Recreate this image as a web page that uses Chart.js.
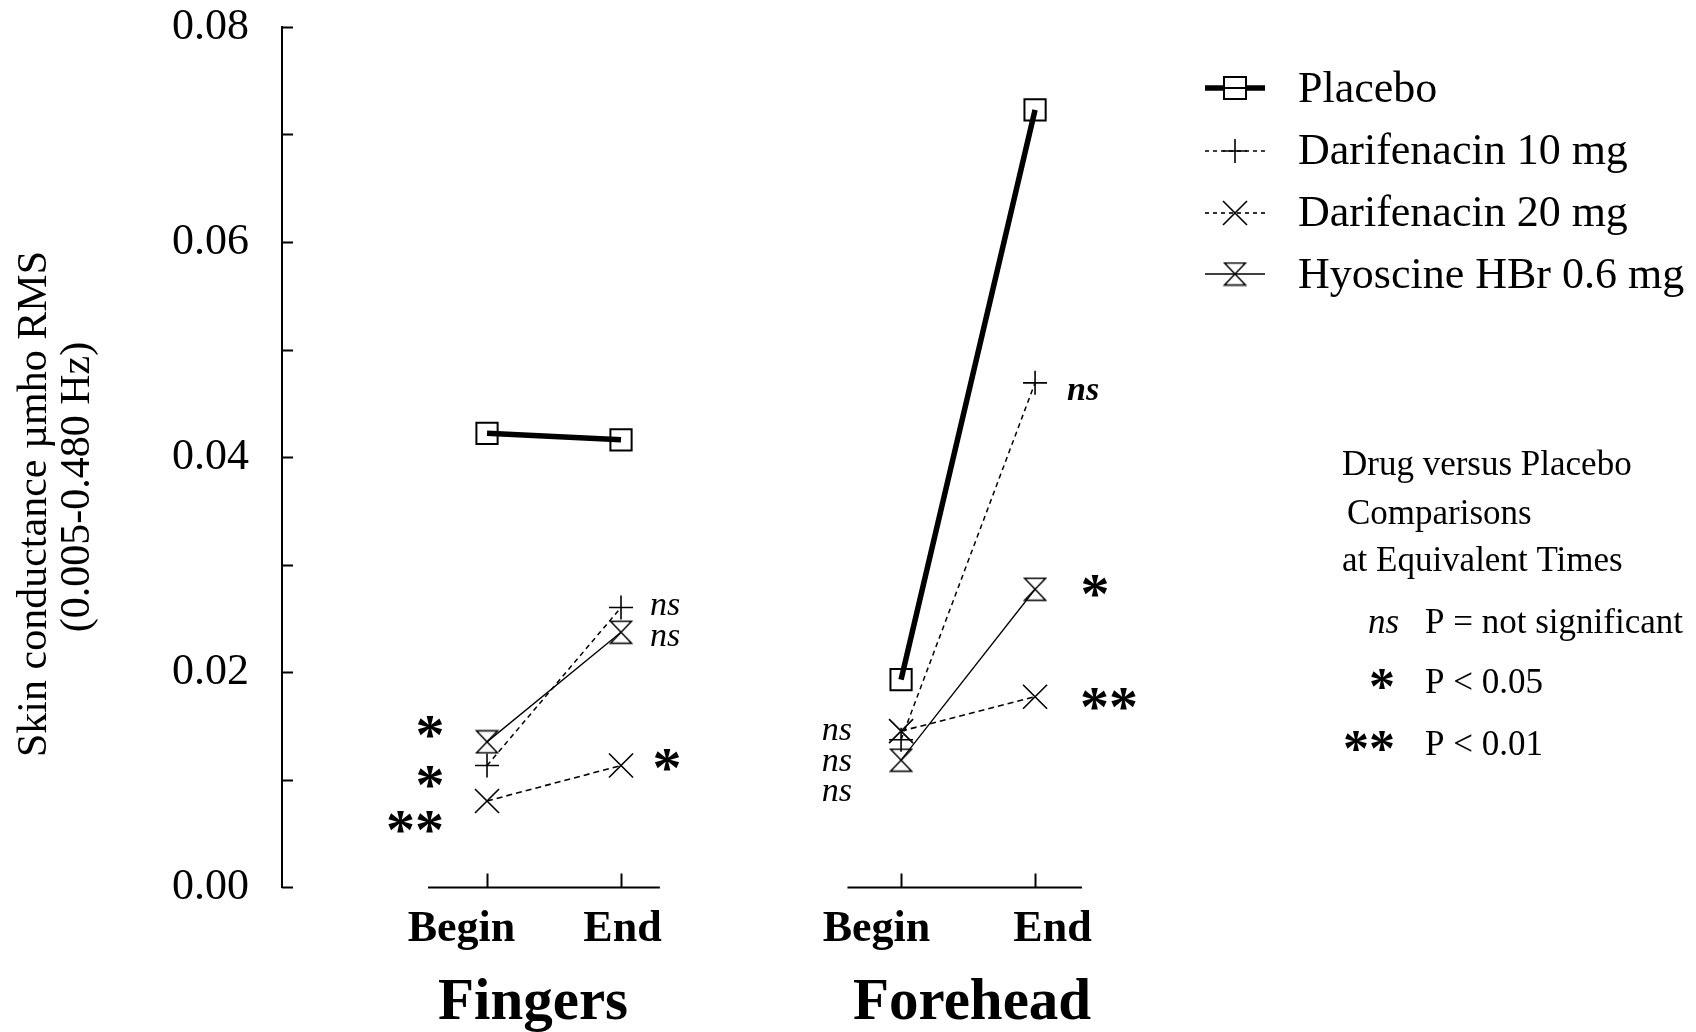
<!DOCTYPE html>
<html>
<head>
<meta charset="utf-8">
<title>Skin conductance</title>
<script src="https://cdn.jsdelivr.net/npm/chart.js@4/dist/chart.umd.min.js"></script>
<style>
  html, body { margin: 0; padding: 0; background: #fff; }
  #chart { display: block; background: #fff; }
</style>
</head>
<body>
<canvas id="chart" width="1696" height="1032"></canvas>
<script>
// ---- data ---------------------------------------------------------------
const sites = ['Fingers', 'Forehead'];
const times = ['Begin', 'End'];
const seriesLabels = ['Placebo', 'Darifenacin 10 mg', 'Darifenacin 20 mg', 'Hyoscine HBr 0.6 mg'];

// skin conductance (µmho RMS), order: Fingers Begin, Fingers End, Forehead Begin, Forehead End
const placebo       = [0.0422, 0.0416, 0.0193, 0.0723];
const darifenacin10 = [0.0113, 0.0260, 0.0137, 0.0469];
const darifenacin20 = [0.0080, 0.0113, 0.0145, 0.0177];
const hyoscine      = [0.0135, 0.0237, 0.0118, 0.0277];

// drug versus placebo significance at the same time points
const darifenacin10Sig = ['*',  'ns', 'ns', 'ns'];
const darifenacin20Sig = ['**', '*',  'ns', '**'];
const hyoscineSig      = ['*',  'ns', 'ns', '*'];

const yTicks = [0, 0.01, 0.02, 0.03, 0.04, 0.05, 0.06, 0.07, 0.08];
const yTickLabels = ['0.00', '', '0.02', '', '0.04', '', '0.06', '', '0.08'];

const keyTitle = ['Drug versus Placebo', 'Comparisons', 'at Equivalent Times'];
const keyRows = [['ns', 'P = not significant'], ['*', 'P < 0.05'], ['**', 'P < 0.01']];

// ---- layout -------------------------------------------------------------
const SITE_GAP = 3.09;                 // x units between the two site groups
const SERIF = "'Liberation Serif', 'Times New Roman', serif";

function xPos(si, ti) { return si * SITE_GAP + ti; }

function toPoints(values) {
  const pts = [];
  sites.forEach((s, si) => {
    times.forEach((t, ti) => pts.push({ x: xPos(si, ti), y: values[si * times.length + ti] }));
    if (si < sites.length - 1) pts.push({ x: xPos(si, 1) + 0.5, y: null });
  });
  return pts;
}

// hourglass marker used for hyoscine
const hourglass = (() => {
  const c = document.createElement('canvas');
  c.width = 24; c.height = 25;
  const g = c.getContext('2d');
  g.strokeStyle = '#000';
  g.lineWidth = 1.5;
  g.beginPath();
  g.moveTo(1.5, 1.5); g.lineTo(22.5, 1.5);
  g.lineTo(1.5, 23.5); g.lineTo(22.5, 23.5);
  g.closePath();
  g.stroke();
  return c;
})();

const seriesStyle = [
  { data: placebo,       width: 5.5, dash: [],     point: 'rect',     radius: 15, pw: 2 },
  { data: darifenacin10, width: 1.5, dash: [5, 4], point: 'cross',    radius: 12, pw: 1.6 },
  { data: darifenacin20, width: 1.6, dash: [6, 4], point: 'crossRot', radius: 17, pw: 1.6 },
  { data: hyoscine,      width: 1.3, dash: [],     point: hourglass,  radius: 12, pw: 1.5 }
];

const datasets = seriesStyle.map((s, i) => ({
  label: seriesLabels[i],
  data: toPoints(s.data),
  borderColor: '#000',
  borderWidth: s.width,
  borderDash: s.dash,
  pointStyle: s.point,
  pointRadius: s.radius,
  pointHoverRadius: s.radius,
  pointBorderWidth: s.pw,
  pointBorderColor: '#000',
  pointBackgroundColor: 'rgba(0,0,0,0)',
  fill: false,
  tension: 0,
  spanGaps: false
}));

// significance label placement: [series index, point index, dx, dy, align, bold]
const sigSeries = [null, darifenacin10Sig, darifenacin20Sig, hyoscineSig];
const sigPlacement = [
  [3, 0, -57, -14, 'center'], [1, 0, -57, 12, 'center'], [2, 0, -72, 22, 'center'],
  [1, 1, 29, 0, 'left'],      [3, 1, 29, 6, 'left'],     [2, 1, 46, -5, 'center'],
  [2, 2, -49, 1, 'right'],    [1, 2, -49, 23, 'right'],  [3, 2, -49, 33, 'right'],
  [1, 3, 32, 9, 'left', true], [3, 3, 60, -2, 'center'], [2, 3, 74, 3, 'center']
];

function drawStar(ctx, text, x, y, size, align) {
  ctx.font = `bold ${size}px ${SERIF}`;
  ctx.textAlign = align;
  ctx.textBaseline = 'alphabetic';
  ctx.fillText(text, x, y + size * 0.45);
}

function drawNs(ctx, x, y, size, align, bold) {
  ctx.font = `italic ${bold ? 'bold ' : ''}${size}px ${SERIF}`;
  ctx.textAlign = align;
  ctx.textBaseline = 'alphabetic';
  ctx.fillText('ns', x, y + size * 0.23);
}

function drawMarker(ctx, style, x, y) {
  ctx.save();
  ctx.strokeStyle = '#000';
  ctx.setLineDash([]);
  if (style.point === 'rect') {
    ctx.lineWidth = 2;
    ctx.fillStyle = '#fff';
    ctx.fillRect(x - 11, y - 11, 22, 22);
    ctx.strokeRect(x - 11, y - 11, 22, 22);
    ctx.beginPath(); ctx.moveTo(x - 11, y); ctx.lineTo(x + 11, y); ctx.stroke();
  } else if (style.point === 'cross') {
    ctx.lineWidth = style.pw;
    ctx.beginPath();
    ctx.moveTo(x - style.radius, y); ctx.lineTo(x + style.radius, y);
    ctx.moveTo(x, y - style.radius); ctx.lineTo(x, y + style.radius);
    ctx.stroke();
  } else if (style.point === 'crossRot') {
    const o = style.radius * Math.SQRT1_2;
    ctx.lineWidth = style.pw;
    ctx.beginPath();
    ctx.moveTo(x - o, y - o); ctx.lineTo(x + o, y + o);
    ctx.moveTo(x + o, y - o); ctx.lineTo(x - o, y + o);
    ctx.stroke();
  } else {
    ctx.drawImage(style.point, x - style.point.width / 2, y - style.point.height / 2);
  }
  ctx.restore();
}

const decorations = {
  id: 'decorations',
  afterDraw(chart) {
    const ctx = chart.ctx;
    const xs = chart.scales.x, ys = chart.scales.y;
    const area = chart.chartArea;
    ctx.save();
    ctx.fillStyle = '#000';
    ctx.strokeStyle = '#000';

    // inward ticks on the value axis
    ctx.lineWidth = 2;
    yTicks.forEach(v => {
      const y = Math.round(ys.getPixelForValue(v)) + 0.5;
      ctx.beginPath(); ctx.moveTo(area.left, y); ctx.lineTo(area.left + 11, y); ctx.stroke();
    });

    // value axis title
    ctx.save();
    ctx.font = `42px ${SERIF}`;
    ctx.textAlign = 'center';
    ctx.textBaseline = 'middle';
    ctx.translate(35, 504); ctx.rotate(-Math.PI / 2);
    ctx.fillText('Skin conductance µmho RMS', 0, 0);
    ctx.restore();
    ctx.save();
    ctx.font = `42px ${SERIF}`;
    ctx.textAlign = 'center';
    ctx.textBaseline = 'middle';
    ctx.translate(78, 487); ctx.rotate(-Math.PI / 2);
    ctx.fillText('(0.005-0.480 Hz)', 0, 0);
    ctx.restore();

    // one short time axis per site
    const axisExtent = [[-0.44, 1.29], [-0.40, 1.35]];
    const timeLabelDx = [[-26, 1], [-25, 17]];
    const siteLabelDx = [46, 71];
    const yb = Math.round(area.bottom) + 0.5;
    sites.forEach((site, si) => {
      ctx.lineWidth = 2;
      ctx.beginPath();
      ctx.moveTo(xs.getPixelForValue(xPos(si, 0) + axisExtent[si][0]), yb);
      ctx.lineTo(xs.getPixelForValue(xPos(si, 0) + axisExtent[si][1]), yb);
      ctx.stroke();
      times.forEach((t, ti) => {
        const x = Math.round(xs.getPixelForValue(xPos(si, ti))) + 0.5;
        ctx.beginPath(); ctx.moveTo(x, yb); ctx.lineTo(x, yb - 14); ctx.stroke();
        ctx.font = `bold 44px ${SERIF}`;
        ctx.textAlign = 'center';
        ctx.textBaseline = 'alphabetic';
        ctx.fillText(t, x + timeLabelDx[si][ti], 941);
      });
      ctx.font = `bold 59px ${SERIF}`;
      ctx.textAlign = 'center';
      ctx.fillText(site, xs.getPixelForValue(xPos(si, 0)) + siteLabelDx[si], 1019);
    });

    // significance labels next to the points
    sigPlacement.forEach(([s, p, dx, dy, align, bold]) => {
      const meta = chart.getDatasetMeta(s);
      const idx = p < 2 ? p : p + 1;            // skip the gap point
      const el = meta.data[idx];
      const text = sigSeries[s][p];
      const x = el.x + dx, y = el.y + dy;
      if (text === 'ns') drawNs(ctx, x, y, 34, align, bold);
      else drawStar(ctx, text, x, y, 58, align);
    });

    // legend
    const rowsY = [88, 151, 213, 274];
    const baseY = [102, 164, 226, 288];
    seriesStyle.forEach((st, i) => {
      const cy = rowsY[i];
      ctx.save();
      ctx.lineWidth = st.width;
      ctx.setLineDash(st.dash.length ? [4, 4] : []);
      ctx.beginPath(); ctx.moveTo(1205, cy); ctx.lineTo(1265, cy); ctx.stroke();
      ctx.restore();
      drawMarker(ctx, st, 1235, cy);
      ctx.font = `44px ${SERIF}`;
      ctx.textAlign = 'left';
      ctx.textBaseline = 'alphabetic';
      ctx.fillText(seriesLabels[i], 1298, baseY[i]);
    });

    // significance key
    ctx.font = `35px ${SERIF}`;
    ctx.textAlign = 'left';
    ctx.textBaseline = 'alphabetic';
    ctx.fillText(keyTitle[0], 1342, 475);
    ctx.fillText(keyTitle[1], 1347, 524);
    ctx.fillText(keyTitle[2], 1342, 571);
    const keyBase = [633, 693, 755];
    keyRows.forEach(([sym, txt], i) => {
      if (sym === 'ns') {
        ctx.font = `italic 35px ${SERIF}`;
        ctx.textAlign = 'right';
        ctx.fillText(sym, 1399, keyBase[i]);
      } else {
        drawStar(ctx, sym, 1395, keyBase[i] - 12, 52, 'right');
      }
      ctx.font = `35px ${SERIF}`;
      ctx.textAlign = 'left';
      ctx.fillText(txt, 1425, keyBase[i]);
    });
    ctx.restore();
  }
};

new Chart(document.getElementById('chart'), {
  type: 'line',
  data: { datasets },
  plugins: [decorations],
  options: {
    responsive: false,
    animation: false,
    devicePixelRatio: 1,
    layout: { padding: { left: 0, top: 27, right: 539, bottom: 145 } },
    plugins: { legend: { display: false }, tooltip: { enabled: false } },
    scales: {
      x: {
        type: 'linear',
        display: false,
        min: -1.53,
        max: 5.0
      },
      y: {
        type: 'linear',
        min: 0,
        max: 0.08,
        afterBuildTicks: (scale) => { scale.ticks = yTicks.map(v => ({ value: v })); },
        afterFit: (scale) => {
          scale.width = 282;
          scale.paddingTop = 0;
          scale.paddingBottom = 0;
        },
        ticks: {
          autoSkip: false,
          padding: 33,
          color: '#000',
          font: { family: SERIF, size: 44, lineHeight: 1 },
          callback: (value, index) => yTickLabels[index]
        },
        grid: { display: false, drawTicks: false },
        border: { display: true, color: '#000', width: 2 }
      }
    }
  }
});
</script>
</body>
</html>
